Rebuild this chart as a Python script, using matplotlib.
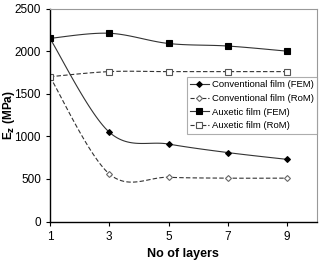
import numpy as np
import matplotlib.pyplot as plt

plt.rcParams['font.family'] = ['Liberation Sans', 'DejaVu Sans']

# ===== Data =====
layers = [1, 3, 5, 7, 9]
conv_fem = [2150, 1050, 910, 810, 730]
conv_rom = [1700, 560, 520, 510, 510]
aux_fem = [2150, 2210, 2090, 2060, 2000]
aux_rom = [1700, 1760, 1760, 1760, 1760]


def smooth(x, y, n=30):
    # Excel-style smoothed line: cubic Bezier with Catmull-Rom control points
    x = np.asarray(x, float)
    y = np.asarray(y, float)
    px = np.concatenate([[x[0]], x, [x[-1]]])
    py = np.concatenate([[y[0]], y, [y[-1]]])
    xs, ys = [], []
    t = np.linspace(0, 1, n)
    for i in range(1, len(px) - 2):
        p0 = np.array([px[i], py[i]])
        p3 = np.array([px[i + 1], py[i + 1]])
        c1 = p0 + (np.array([px[i + 1], py[i + 1]]) - np.array([px[i - 1], py[i - 1]])) / 6
        c2 = p3 - (np.array([px[i + 2], py[i + 2]]) - np.array([px[i], py[i]])) / 6
        b = ((1 - t) ** 3)[:, None] * p0 + (3 * (1 - t) ** 2 * t)[:, None] * c1 \
            + (3 * (1 - t) * t ** 2)[:, None] * c2 + (t ** 3)[:, None] * p3
        xs.extend(b[:, 0])
        ys.extend(b[:, 1])
    return xs, ys


fig = plt.figure(figsize=(3.22, 2.67), dpi=100)
ax = fig.add_axes([0.155, 0.170, 0.829, 0.798])

series = [
    (conv_fem, 'Conventional film (FEM)', '-', 'D', 'black', 'black', 3),
    (conv_rom, 'Conventional film (RoM)', '--', 'D', 'white', '#666666', 3),
    (aux_fem, 'Auxetic film (FEM)', '-', 's', 'black', 'black', 4.5),
    (aux_rom, 'Auxetic film (RoM)', '--', 's', 'white', '#555555', 4.5),
]

for vals, label, ls, mk, mfc, mec, ms in series:
    sx, sy = smooth(layers, vals)
    ax.plot(sx, sy, ls=ls, color='#333333', lw=0.8, dashes=(4, 2) if ls == '--' else (None, None))
    ax.plot(layers, vals, ls='none', marker=mk, ms=ms, mfc=mfc, mec=mec, mew=0.8)
    # proxy for legend
    ax.plot([], [], ls=ls, color='#333333', lw=0.8, marker=mk, ms=ms,
            mfc=mfc, mec=mec, mew=0.8, label=label)

ax.set_xlim(1, 10)
ax.set_ylim(0, 2500)
ax.set_xticks(layers)
ax.set_yticks(range(0, 2501, 500))
ax.tick_params(labelsize=8.5, length=3, width=0.8, direction='out', color='black')
ax.spines['top'].set_color('#999999')
ax.spines['right'].set_color('#999999')
ax.spines['left'].set_linewidth(1.0)
ax.spines['bottom'].set_linewidth(1.0)

ax.set_xlabel('No of layers', fontsize=9, fontweight='bold')
ax.set_ylabel(r'E$_\mathbf{z}$ (MPa)', fontsize=8.5, fontweight='bold')
ax.yaxis.set_label_coords(-0.125, 0.5)

leg = ax.legend(loc='upper right', bbox_to_anchor=(1.0, 0.679), fontsize=6.8,
                frameon=True, fancybox=False, edgecolor='#999999',
                borderpad=0.35, labelspacing=0.5, handlelength=2.0,
                handletextpad=0.3, borderaxespad=0)
leg.get_frame().set_linewidth(0.8)

fig.savefig('out.png', dpi=100)
